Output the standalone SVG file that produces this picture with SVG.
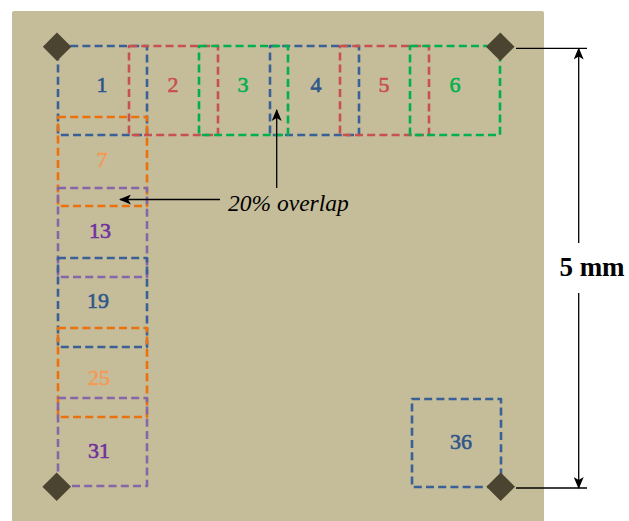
<svg xmlns="http://www.w3.org/2000/svg" width="629" height="521" viewBox="0 0 629 521">
<defs>
<style>
.t{fill:none;stroke-width:2.6;stroke-dasharray:8 4.2;stroke-linejoin:round}
.b{stroke:#3b6096}.r{stroke:#c8504f}.g{stroke:#00b050}.o{stroke:#ec700c}.p{stroke:#8566a8}
.n{font-family:"Liberation Serif","DejaVu Serif",serif;font-size:22px;text-anchor:middle;stroke-width:0.6}
.nb{fill:#2e568a;stroke:#2e568a}.nr{fill:#c8504f;stroke:#c8504f}.ng{fill:#00b050;stroke:#00b050}.no{fill:#f39a55;stroke:#f39a55}.np{fill:#7030a0;stroke:#7030a0}
.d{fill:#4b4430}
.ln{stroke:#000;stroke-width:1.3;fill:none}
</style>
<marker id="ah" viewBox="0 0 12 10" refX="11" refY="5" markerWidth="12" markerHeight="10" markerUnits="userSpaceOnUse" orient="auto">
<path d="M0,0 L12,5 L0,10 L3,5 z" fill="#000"/>
</marker>
</defs>
<rect x="12" y="11" width="532" height="515" rx="2" fill="#c5bd9a"/>
<g id="tile-1"><rect class="t b" x="58" y="46" width="89" height="89"/><text class="n nb" x="102" y="92">1</text></g>
<g id="tile-2"><rect class="t r" x="129" y="46" width="89" height="89"/><text class="n nr" x="173" y="92">2</text></g>
<g id="tile-4"><rect class="t b" x="270" y="46" width="89" height="89"/><text class="n nb" x="316" y="92">4</text></g>
<g id="tile-3"><rect class="t g" x="199" y="46" width="89" height="89"/><text class="n ng" x="243" y="92">3</text></g>
<g id="tile-5"><rect class="t r" x="340" y="46" width="89" height="89"/><text class="n nr" x="384" y="92">5</text></g>
<g id="tile-6"><rect class="t g" x="410" y="46" width="90" height="89"/><text class="n ng" x="455" y="92">6</text></g>
<g id="tile-7"><rect class="t o" x="58" y="117" width="89" height="89"/><text class="n no" x="102" y="167">7</text></g>
<g id="tile-13"><rect class="t p" x="58" y="188" width="89" height="89"/><text class="n np" x="100" y="238">13</text></g>
<g id="tile-19"><rect class="t b" x="58" y="258" width="89" height="89"/><text class="n nb" x="98" y="308">19</text></g>
<g id="tile-25"><rect class="t o" x="58" y="328" width="89" height="89"/><text class="n no" x="99" y="385">25</text></g>
<g id="tile-31"><rect class="t p" x="58" y="398" width="89" height="88"/><text class="n np" x="99" y="458">31</text></g>
<g id="tile-36"><rect class="t b" x="412" y="399" width="89" height="88"/><text class="n nb" x="461" y="449">36</text></g>
<g id="markers">
<polygon class="d" points="57,32.5 71.3,46.8 57,61 42.8,46.8"/>
<polygon class="d" points="500.3,32.5 514.6,46.8 500.3,61 486,46.8"/>
<polygon class="d" points="56.7,472.5 71,486.7 56.7,501 42.4,486.7"/>
<polygon class="d" points="500.7,472.5 515,486.7 500.7,501 486.4,486.7"/>
</g>
<g id="connectors">
<line class="ln" x1="220" y1="199.5" x2="120" y2="199.5" marker-end="url(#ah)"/>
<line class="ln" x1="276.7" y1="188" x2="276.7" y2="110" marker-end="url(#ah)"/>
<line class="ln" x1="516" y1="48.3" x2="587" y2="48.3"/>
<line class="ln" x1="516" y1="488" x2="587" y2="488"/>
<line class="ln" x1="578.7" y1="243" x2="578.7" y2="48.5" marker-end="url(#ah)"/>
<line class="ln" x1="578.7" y1="293" x2="578.7" y2="488" marker-end="url(#ah)"/>
</g>
<text x="228" y="211" font-family="Liberation Serif, DejaVu Serif, serif" font-style="italic" font-size="23.5" fill="#000">20% overlap</text>
<text x="592" y="276" font-family="Liberation Serif, DejaVu Serif, serif" font-weight="bold" font-size="27" text-anchor="middle" fill="#000">5 mm</text>
</svg>
